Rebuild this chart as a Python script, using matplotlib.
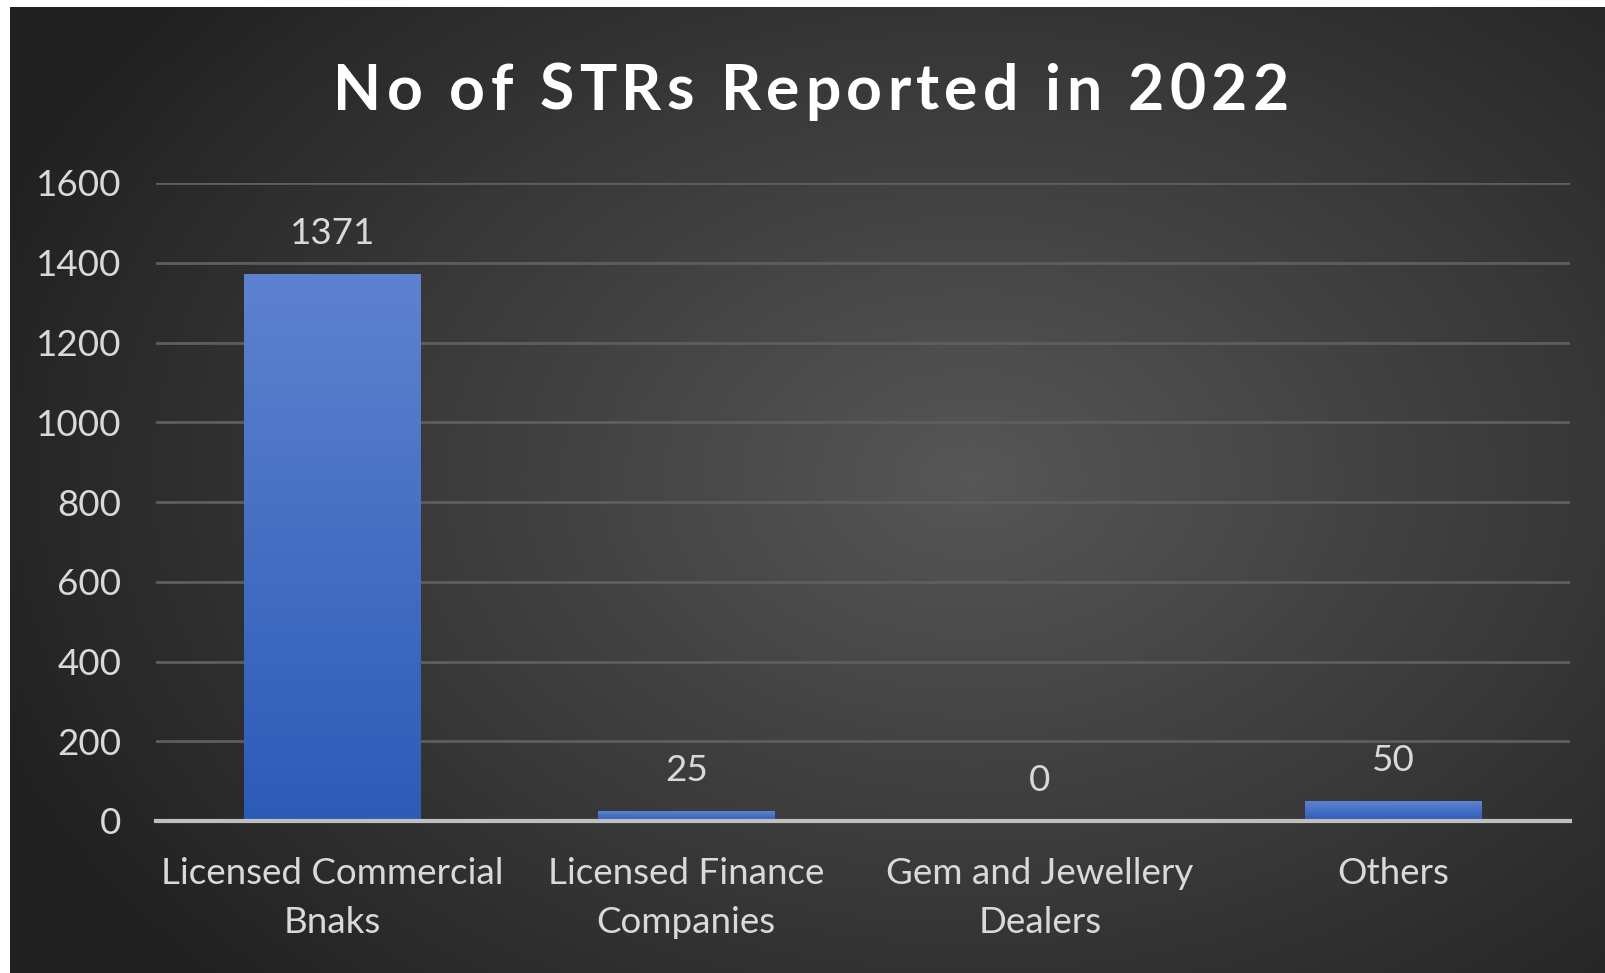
import numpy as np
import matplotlib
matplotlib.use("Agg")
import matplotlib.pyplot as plt

categories = ["Licensed Commercial\nBnaks", "Licensed Finance\nCompanies",
              "Gem and Jewellery\nDealers", "Others"]
values = [1371, 25, 0, 50]
yticks = [0, 200, 400, 600, 800, 1000, 1200, 1400, 1600]
title = "No of STRs Reported in 2022"

plt.rcParams['font.family'] = ['Lato', 'DejaVu Sans']

W, H = 1606, 973
fig = plt.figure(figsize=(W / 100, H / 100), dpi=100, facecolor="white")

# background with radial shading
bg = fig.add_axes([10 / W, 0, 1 - 10 / W, 1 - 7 / H])
bg.set_axis_off()
yy, xx = np.mgrid[0:966, 0:1596]
r = np.sqrt(((xx - 960) / 1000.0) ** 2 + ((yy - 470) / 700.0) ** 2)
shade = np.clip(0.34 - 0.2 * r, 0.13, 0.34)
bg.imshow(np.dstack([shade, shade, shade]), aspect="auto", extent=[0, 1, 0, 1])
bg.set_xlim(0, 1)
bg.set_ylim(0, 1)

ax = fig.add_axes([156 / W, 152 / H, 1414 / W, 638 / H])
ax.set_facecolor("none")
x = np.arange(len(categories))
bars = ax.bar(x, values, width=0.5, color="#4472c4", zorder=3)

# vertical gradient on bars
grad = np.linspace(0, 1, 256).reshape(-1, 1)
cmap = matplotlib.colors.LinearSegmentedColormap.from_list("b", ["#2c5bb7", "#5e82cf"])
for b in bars:
    if b.get_height() <= 0:
        continue
    im = ax.imshow(grad, cmap=cmap, aspect="auto", origin="lower",
                   extent=[b.get_x(), b.get_x() + b.get_width(), 0, b.get_height()], zorder=3)
    im.set_clip_path(b)

for xi, v in zip(x, values):
    ax.text(xi, v + 60, str(v), ha="center", va="bottom", color="#d9d9d9", fontsize=26.5)

ax.set_xlim(-0.5, 3.5)
ax.set_ylim(0, 1600)
ax.set_yticks(yticks)
ax.set_yticklabels([str(t) for t in yticks])
ax.set_xticks(x)
ax.set_xticklabels(categories, linespacing=1.6)
ax.tick_params(axis="y", length=0, pad=25, labelsize=26.5, labelcolor="#d9d9d9")
ax.tick_params(axis="x", length=0, pad=26, labelsize=26.5, labelcolor="#d9d9d9")
ax.grid(axis="y", color="#5e5e5e", linewidth=2, zorder=1)
for s in ["top", "right", "left"]:
    ax.spines[s].set_visible(False)
ax.spines["bottom"].set_color("#bfbfbf")
ax.spines["bottom"].set_linewidth(3)
ax.spines["bottom"].set_zorder(4)

# title with letter spacing, placed char by char
renderer = fig.canvas.get_renderer()
spacing = 5.3
widths = []
for ch in title:
    t = fig.text(0, 0, ch if ch != " " else "n", fontsize=45, fontweight="bold")
    w = t.get_window_extent(renderer).width
    if ch == " ":
        w *= 0.45
    widths.append(w)
    t.remove()
total = sum(widths) + spacing * (len(title) - 1)
xpos = 811 - total / 2
for ch, w in zip(title, widths):
    fig.text(xpos / W, 1 - 92 / H, ch, ha="left", va="center",
             color="white", fontsize=45, fontweight="bold")
    xpos += w + spacing

fig.savefig("out.png", dpi=100, facecolor="white")
